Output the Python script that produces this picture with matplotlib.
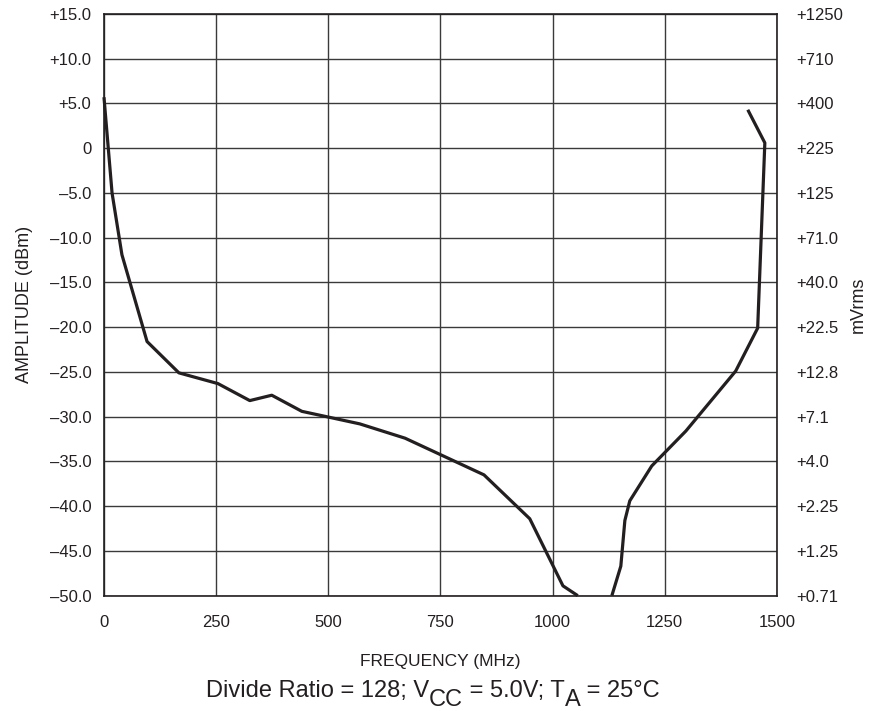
import matplotlib
matplotlib.use("Agg")
import matplotlib.pyplot as plt
from matplotlib import font_manager

# Curve data (frequency in MHz, amplitude in dBm)
low_freq = [0, 18, 40, 96, 167, 254, 325, 374, 441, 570, 671, 847, 949, 1023, 1056]
low_dbm = [5.7, -5.0, -11.9, -21.6, -25.1, -26.3, -28.2, -27.6, -29.4, -30.8,
           -32.4, -36.5, -41.4, -48.9, -50.0]
high_freq = [1132, 1152, 1161, 1172, 1221, 1297, 1408, 1457, 1473, 1435]
high_dbm = [-50.0, -46.7, -41.6, -39.4, -35.5, -31.6, -24.9, -20.1, 0.6, 4.3]

dbm_ticks = [15, 10, 5, 0, -5, -10, -15, -20, -25, -30, -35, -40, -45, -50]
dbm_labels = ["+15.0", "+10.0", "+5.0", "0", "\u20135.0", "\u201310.0", "\u201315.0",
              "\u201320.0", "\u201325.0", "\u201330.0", "\u201335.0", "\u201340.0",
              "\u201345.0", "\u201350.0"]
mv_labels = ["+1250", "+710", "+400", "+225", "+125", "+71.0", "+40.0", "+22.5",
             "+12.8", "+7.1", "+4.0", "+2.25", "+1.25", "+0.71"]
freq_ticks = [0, 250, 500, 750, 1000, 1250, 1500]

# caption pieces: (text, lowered?)
caption = [("Divide Ratio = 128; V", False), ("CC", True), (" = 5.0V; T", False),
           ("A", True), (" = 25\u00b0C", False)]

names = {f.name for f in font_manager.fontManager.ttflist}
narrow = "Liberation Sans Narrow" if "Liberation Sans Narrow" in names else "Liberation Sans"
plt.rcParams["font.family"] = [narrow, "DejaVu Sans"]

ink = "#231f20"
fig = plt.figure(figsize=(8.91, 7.11), dpi=100)
ax = fig.add_axes([0.1167, 0.1622, 0.7553, 0.8181])

ax.plot(low_freq, low_dbm, color=ink, lw=2.3, solid_capstyle="butt", clip_on=False)
ax.plot(high_freq, high_dbm, color=ink, lw=2.3, solid_capstyle="butt", clip_on=False)

ax.set_xlim(0, 1500)
ax.set_ylim(-50, 15)
ax.set_xticks(freq_ticks)
ax.set_yticks(dbm_ticks)
ax.set_yticklabels(dbm_labels)
ax.grid(True, color="#3a3a3a", lw=1.0)
ax.set_axisbelow(True)
ax.tick_params(length=0, labelsize=12, pad=9, colors=ink)
ax.tick_params(axis="x", pad=14)
for s in ax.spines.values():
    s.set_color(ink)
    s.set_linewidth(1.2)

ax.set_xlabel("FREQUENCY (MHz)", fontsize=12.5, color=ink, labelpad=17)
ax.set_ylabel("AMPLITUDE (dBm)", fontsize=13, color=ink, labelpad=12)

ax2 = ax.twinx()
ax2.set_ylim(-50, 15)
ax2.set_yticks(dbm_ticks)
ax2.set_yticklabels(mv_labels)
ax2.tick_params(length=0, labelsize=12, pad=14, colors=ink)
ax2.set_ylabel("mVrms", fontsize=13, color=ink, labelpad=5)
for s in ax2.spines.values():
    s.set_visible(False)

# caption with same-size, lowered subscripts
renderer = fig.canvas.get_renderer()
x0, y0 = 204, 711 - 697
pieces = []
x = x0
for txt, low in caption:
    t = fig.text(x / 891, (y0 - (9 if low else 0)) / 711, txt, ha="left", va="baseline",
                 fontsize=17, color=ink, family="Liberation Sans")
    bb = t.get_window_extent(renderer)
    x += bb.width
    pieces.append(t)
# re-centre caption
shift = (433 - (x0 + x) / 2) / 891
for t in pieces:
    px, py = t.get_position()
    t.set_position((px + shift, py))

fig.savefig("out.png", dpi=100)
